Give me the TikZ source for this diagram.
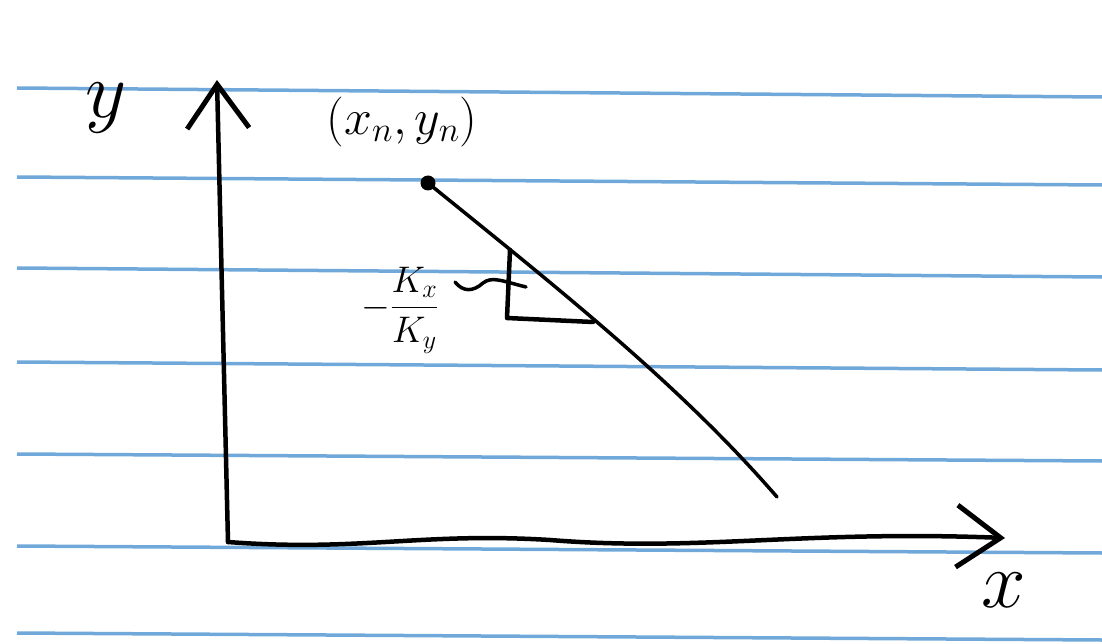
\documentclass[tikz,border=0pt]{standalone}
\usepackage{fix-cm}
\usepackage{amsmath}
\usepackage{xcolor}
\usepackage{tikz}
\usetikzlibrary{arrows.meta, positioning, calc}
\definecolor{paperblue}{RGB}{112,168,218}
\tikzset{
    sketch/.style={line width=4.5pt, line cap=round, line join=round},
    axis/.style={sketch, -{Straight Barb[length=44pt, width=62pt, line width=5pt]}},
    ruled/.style={line width=3.5pt, paperblue},
    dot/.style={circle, fill, inner sep=0pt, minimum size=15pt},
    % hand-written labels, one size each
    biglabel/.style={font=\fontsize{80}{84}\selectfont},
    ptlabel/.style={font=\fontsize{50}{56}\selectfont},
    slopelabel/.style={font=\fontsize{37}{42}\selectfont},
}

\begin{document}
\begin{tikzpicture}[x=1pt, y=-1pt]
    \useasboundingbox[fill=white] (0,0) rectangle (1102,644);

    % lines of the paper
    \foreach \yl/\yr in {88/97, 177/185, 268/277, 362/370, 454/461, 546/553, 633/640}
        \draw[ruled] (17,\yl) -- (1102,\yr);

    % axes
    \coordinate (origin) at (228,542);
    \coordinate (ytip) at (217,80);
    \coordinate (xtip) at (1005,538);
    \coordinate (xmid) at (550,540);
    \draw[axis] (origin) -- (ytip);
    \draw[axis] (origin) .. controls (360,552) and (420,532) .. (xmid)
        .. controls (700,552) and (800,530) .. (xtip);
    \node[biglabel] (ylab) at (106,108) {$y$};
    \node[biglabel] (xlab) at (1004,590) {$x$};

    % the point and the line through it
    \node[dot] (pt) at (428,183) {};
    \node[ptlabel] (ptlab) at (402,122) {$(x_n, y_n)$};
    \coordinate (lineend) at (777,497);
    \draw[sketch, line width=3.5pt] (pt.center) .. controls (560,290) and (680,385) .. (lineend);

    % slope triangle
    \coordinate (tritop) at (510,250);
    \coordinate (tricorner) at (507,318);
    \coordinate (triright) at (593,322);
    \draw[sketch] (tritop) -- (tricorner) -- (triright);
    \node[slopelabel] (slopelab) at (400,310) {$\displaystyle -\frac{K_x}{K_y}$};
    \coordinate (sqstart) at (455,282);
    \coordinate (sqend) at (526,287);
    \draw[sketch, line width=3.5pt] (sqstart) .. controls (463,292) and (473,292) .. (483,283)
        .. controls (492,276) and (502,281) .. (sqend);
\end{tikzpicture}
\end{document}
